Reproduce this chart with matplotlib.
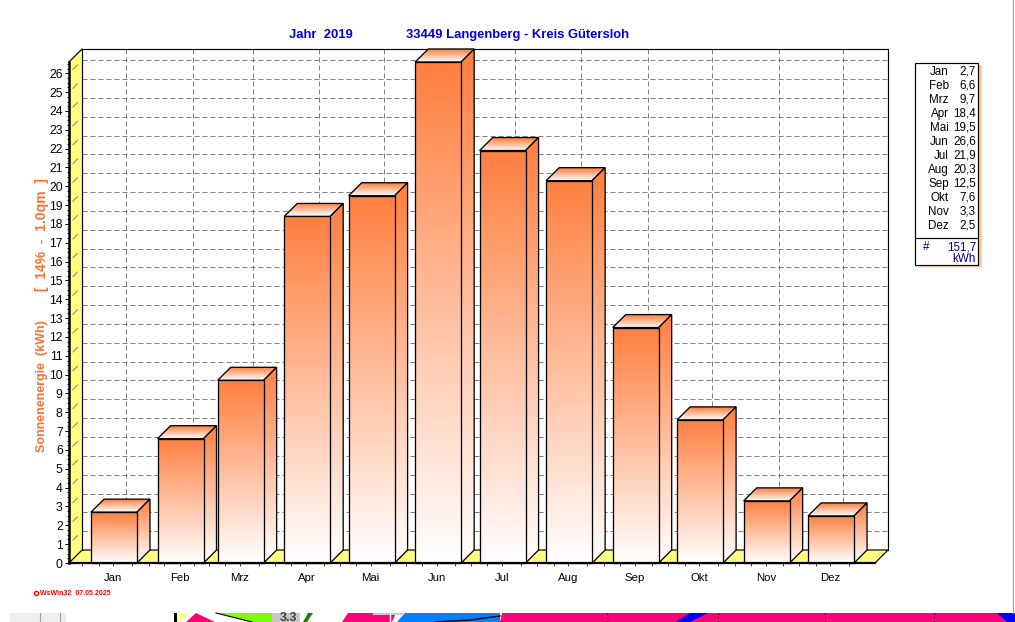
import numpy as np
import matplotlib
matplotlib.use('Agg')
import matplotlib.pyplot as plt
from matplotlib.patches import Polygon, Rectangle

plt.rcParams['font.family'] = ['Liberation Sans', 'DejaVu Sans']
plt.rcParams['image.composite_image'] = False

months = ['Jan', 'Feb', 'Mrz', 'Apr', 'Mai', 'Jun', 'Jul', 'Aug', 'Sep', 'Okt', 'Nov', 'Dez']
days_in_month = [31, 28, 31, 30, 31, 30, 31, 31, 30, 31, 30, 31]
energy = [2.7, 6.6, 9.7, 18.4, 19.5, 26.6, 21.9, 20.3, 12.5, 7.6, 3.3, 2.5]
energy_labels = ['2,7', '6,6', '9,7', '18,4', '19,5', '26,6', '21,9', '20,3', '12,5', '7,6', '3,3', '2,5']
total_label = '151,7'

W, H = 1015, 622
ORANGE = (1.0, 0.50, 0.25)
YELLOW = '#ffff80'
GRID = '#808080'
LW = 0.85

fig = plt.figure(figsize=(W / 100, H / 100), dpi=100, facecolor='white')

# main axes = front plane of the 3d box, x in days of the year
px_per_day = 2.147
px_per_val = 18.85
ax = fig.add_axes([69 / W, 1 - 563 / H, 806 / W, 501 / H])
xmin = (69 - 82) / px_per_day
xmax = (875 - 82) / px_per_day
ymax = max(energy)
ax.set_xlim(xmin, xmax)
ax.set_ylim(0, ymax)
ax.patch.set_visible(False)
for s in ax.spines.values():
    s.set_visible(False)

dx = 13 / px_per_day
dy = 13 / px_per_val

starts = np.concatenate([[0], np.cumsum(days_in_month)[:-1]])
mids = starts + 14.5
bar_w = 21.4
bar_off = 4.2


def poly(pts, fc, ec='black', lw=0, z=1):
    p = Polygon(pts, closed=True, facecolor=fc, edgecolor=ec, linewidth=lw, zorder=z, clip_on=False)
    ax.add_patch(p)
    return p


def gradient(pts, top, bottom, z):
    # vertical orange to white ramp clipped to a polygon
    n = 128
    t = np.linspace(0, 1, n)[:, None]
    img = np.zeros((n, 1, 3))
    for k in range(3):
        img[:, :, k] = ORANGE[k] + (1 - ORANGE[k]) * t
    xs = [p[0] for p in pts]
    im = ax.imshow(img, extent=[min(xs), max(xs), bottom, top], aspect='auto', zorder=z)
    clip = Polygon(pts, closed=True, transform=ax.transData, facecolor='none', edgecolor='none')
    im.set_clip_box(fig.bbox)
    im.set_clip_path(clip)
    poly(pts, 'none', lw=LW * 1.1, z=z + 0.1)


# walls and floor
poly([(xmin, 0), (xmin + dx, dy), (xmax + dx, dy), (xmax, 0)], YELLOW, z=1)
poly([(xmin, 0), (xmin + dx, dy), (xmin + dx, ymax + dy), (xmin, ymax)], YELLOW, z=1)

line = dict(color='black', lw=LW, zorder=2, clip_on=False)
ax.plot([xmin + dx, xmin + dx, xmax + dx, xmax + dx], [dy, ymax + dy, ymax + dy, dy], **line)
ax.plot([xmin, xmin + dx, xmax + dx, xmax, xmin], [0, dy, dy, 0, 0], **line)
ax.plot([xmin, xmin + dx], [ymax, ymax + dy], **line)

# back wall grid
dash = dict(color=GRID, lw=0.72, ls=(0, (5, 3)), zorder=1.5, clip_on=False)
for v in range(1, 27):
    ax.plot([xmin + dx, xmax + dx], [v + dy, v + dy], **dash)
    ax.plot([xmin + dx * 0.3, xmin + dx * 0.65], [v + dy * 0.3, v + dy * 0.65], color=GRID, lw=0.7, zorder=1.5, clip_on=False)
for m in mids:
    ax.plot([m + dx, m + dx], [dy, ymax + dy], **dash)

# bars
for i, v in enumerate(energy):
    x0 = starts[i] + bar_off
    x1 = x0 + bar_w
    z = 3 + i
    gradient([(x0, v), (x0 + dx, v + dy), (x1 + dx, v + dy), (x1, v)], v + dy, v, z)
    gradient([(x1, 0), (x1 + dx, dy), (x1 + dx, v + dy), (x1, v)], v + dy, 0, z + 0.3)
    gradient([(x0, 0), (x1, 0), (x1, v), (x0, v)], v, 0, z + 0.6)

ax.set_xlim(xmin, xmax)
ax.set_ylim(0, ymax)

# thick front edges
ax.plot([xmin, xmin], [0, ymax], color='black', lw=1.8, zorder=30, clip_on=False)
ax.plot([xmin, xmax], [0, 0], color='black', lw=1.6, zorder=30, clip_on=False)

ax.set_yticks(range(0, 27))
ax.set_yticks(np.arange(0, 26.6, 0.25), minor=True)
ax.tick_params(axis='y', which='major', length=3, width=0.7, labelsize=8.7, pad=1.5)
ax.tick_params(axis='y', which='minor', length=1.5, width=0.7)
ax.set_xticks(mids, months)
quarter = []
for s, d in zip(starts, days_in_month):
    quarter += [s + d * f for f in (0, 0.25, 0.75)]
ax.set_xticks(quarter, minor=True)
ax.tick_params(axis='x', which='major', length=2.5, width=0.7, labelsize=8.2, pad=5, color='#404040')
ax.tick_params(axis='x', which='minor', length=2.5, width=0.7, color='#404040')

# overlay in pixels for the page furniture
ov = fig.add_axes([0, 0, 1, 1])
ov.set_xlim(0, W)
ov.set_ylim(H, 0)
ov.axis('off')
ov.patch.set_visible(False)

blue = '#0000d8'
ov.text(321, 35, 'Jahr  2019', color=blue, fontsize=9.4, fontweight='bold', ha='center', va='center')
ov.text(517.5, 35, '33449 Langenberg - Kreis Gütersloh', color=blue, fontsize=9.4, fontweight='bold', ha='center', va='center')

ylab = '#ff7030'
ov.text(42.5, 386, 'Sonnenenergie  (kWh)', color=ylab, fontsize=9, fontweight='bold', rotation=90, ha='center', va='center')
ov.text(42.5, 235, '[  14%  -  1.0qm  ]', color=ylab, fontsize=10, fontweight='bold', rotation=90, ha='center', va='center')

# value table
ov.add_patch(Rectangle((918, 65), 64, 202, facecolor='#ffc8a8', edgecolor='none', zorder=1))
ov.add_patch(Rectangle((915.5, 62.5), 63, 202, facecolor='white', edgecolor='black', lw=LW, zorder=2))
ov.plot([915.5, 978.5], [238, 238], color='black', lw=LW, zorder=3)
for i, (m, s) in enumerate(zip(months, energy_labels)):
    y = 72 + i * 14
    ov.text(949, y, m, fontsize=8.4, ha='right', va='center', zorder=3)
    ov.text(976, y, s, fontsize=8.4, ha='right', va='center', zorder=3)
navy = '#000080'
ov.text(923, 247, '#', fontsize=8.4, color=navy, va='center', zorder=3)
ov.text(976, 247, total_label, fontsize=8.4, color=navy, ha='right', va='center', zorder=3)
ov.text(976, 259, 'kWh', fontsize=8.4, color=navy, ha='right', va='center', zorder=3)

# footer stamp
ov.plot([36], [593], 'o', ms=3, mfc='none', mec='red', mew=1)
ov.text(40, 593.5, 'WsWin32  07.05.2025', color='red', fontsize=5, fontweight='bold', va='center')

# window edge and the cut off screen content below the chart
ov.plot([1013, 1013], [0, 613], color='#a0a0a0', lw=0.8)
strip = 613
pink = '#ff0078'
ov.add_patch(Rectangle((10, strip), 56, 9, facecolor='#eeeeee', edgecolor='none'))
ov.plot([40, 40], [strip, H], color='#a0a0a0', lw=0.8)
ov.plot([60, 60], [strip, H], color='#a0a0a0', lw=0.8)
ov.add_patch(Rectangle((174, strip), 3, 9, facecolor='black', edgecolor='none'))
ov.add_patch(Polygon([(177, strip), (191, strip), (177, H)], facecolor=YELLOW, edgecolor='none'))
ov.add_patch(Polygon([(196, strip), (215, H), (186, H)], facecolor=pink, edgecolor='none'))
ov.add_patch(Polygon([(216, strip), (272, strip), (272, H), (252, H)], facecolor='#80ff00', edgecolor='none'))
ov.plot([216, 252], [strip, H], color='black', lw=0.8)
ov.add_patch(Rectangle((272, strip), 28, 9, facecolor='#c8c8c8', edgecolor='none'))
ov.text(289, 618, '3.3', fontsize=9, fontweight='bold', color='#404040', ha='center', va='center')
ov.add_patch(Polygon([(303, H), (308, strip), (313, strip), (307, H)], facecolor='#208000', edgecolor='none'))
ov.add_patch(Polygon([(342, H), (348, strip), (396, strip), (392, H)], facecolor=pink, edgecolor='none'))
ov.add_patch(Rectangle((373, strip), 30, 2, facecolor='#c8c8c8', edgecolor='none'))
ov.plot([390, 390], [strip, H], color='white', lw=1)
ov.add_patch(Polygon([(397, H), (405, strip), (500, strip), (500, H)], facecolor='#0080ff', edgecolor='none'))
ov.plot([435, 470, 500], [H, 620, 616], color='black', lw=1)
ov.add_patch(Polygon([(500, H), (502, strip), (W, strip), (W, H)], facecolor=pink, edgecolor='none'))
ov.add_patch(Polygon([(675, H), (690, strip), (708, strip), (690, H)], facecolor='#0000ff', edgecolor='none'))
ov.add_patch(Polygon([(997, strip), (W, strip), (W, H), (1007, H)], facecolor='#0000ff', edgecolor='none'))
for x in (607, 718, 825, 934):
    ov.plot([x, x], [strip, H], color='#400040', lw=1, ls=':')

fig.savefig('out.png', dpi=100)
